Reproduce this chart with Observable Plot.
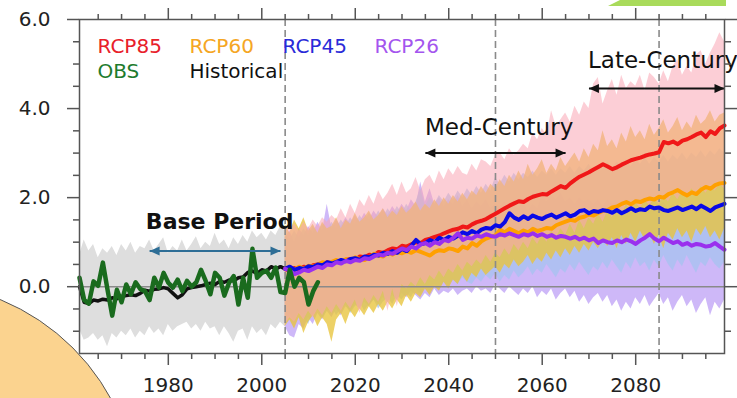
<!DOCTYPE html>
<html><head><meta charset="utf-8">
<script src="https://cdn.jsdelivr.net/npm/d3@7"></script>
<script src="https://cdn.jsdelivr.net/npm/@observablehq/plot@0.6"></script>
<style>
html,body{margin:0;padding:0;background:#fff;}
#wrap{position:relative;width:737px;height:398px;overflow:hidden;}
#chart{position:absolute;left:0;top:0;}
.deco{position:absolute;left:0;top:0;pointer-events:none;}
</style></head><body>
<div id="wrap"><div id="chart"></div>
<svg class="deco" width="737" height="398">
<circle cx="-84" cy="505" r="222" fill="#FBD38F" stroke="#555" stroke-width="1"/>
<polygon points="620,0 726,0 726,6 608,6" fill="#A9DB5B"/>
</svg></div>
<script>
// ---- categories / ticks ----
const histYears = d3.range(1961, 2006);
const obsYears = d3.range(1961, 2013);
const rcpYears = d3.range(2005, 2100);
const xMajorTicks = [1980, 2000, 2020, 2040, 2060, 2080];
const xMinorTicks = [1965, 1970, 1975, 1985, 1990, 1995, 2005, 2010, 2015, 2025, 2030, 2035, 2045, 2050, 2055, 2065, 2070, 2075, 2085, 2090, 2095];
const yMajorTicks = [0, 2, 4, 6];
const yMinorTicks = [-1, -0.5, 0.5, 1, 1.5, 2.5, 3, 3.5, 4.5, 5, 5.5];
const periodBounds = [2005, 2050, 2085];

// ---- observed & historical ----
const obs = [
  0.2, -0.3, -0.38, 0.12, 0.02, 0.54, -0.07, -0.65, -0.07, -0.35,
  0.05, -0.17, 0.1, -0.05, -0.1, -0.3, 0.2, -0.02, 0.31, 0.09,
  -0.02, 0.16, -0.1, 0.13, 0.0, 0.1, 0.38, 0.13, -0.17, 0.31,
  0.2, -0.2, 0.09, 0.24, -0.4, 0.2, -0.25, 0.85, 0.2, 0.31,
  0.36, 0.2, 0.43, -0.12, -0.14, 0.38, 0.0, 0.2, 0.1, -0.4,
  -0.1, 0.1];
const historical = [
  0.0, -0.35, -0.38, -0.3, -0.32, -0.28, -0.3, -0.25, -0.27, -0.22,
  -0.2, -0.18, -0.2, -0.15, -0.08, -0.1, -0.06, -0.05, -0.02, -0.05,
  -0.15, -0.25, -0.18, -0.05, -0.02, 0.0, 0.02, 0.05, 0.08, 0.05,
  0.12, 0.1, 0.15, 0.13, 0.2, 0.22, 0.32, 0.35, 0.3, 0.38,
  0.35, 0.45, 0.4, 0.45, 0.4];
const histHi = [
  0.70, 1.05, 0.80, 0.95, 0.65, 0.85, 0.75, 0.90, 0.70, 0.95,
  0.80, 1.00, 0.75, 0.90, 0.85, 1.05, 0.80, 0.95, 1.10, 0.75,
  0.90, 0.80, 1.05, 0.80, 0.95, 1.12, 0.85, 1.00, 0.90, 1.20,
  0.95, 1.05, 0.85, 1.10, 0.95, 1.15, 1.00, 1.25, 1.10, 1.20,
  1.05, 1.25, 1.15, 1.35, 1.25];
const histLo = [
  -0.95, -1.20, -1.15, -1.05, -1.20, -1.10, -1.35, -1.05, -1.15, -1.00,
  -1.10, -0.95, -1.15, -1.00, -1.10, -0.90, -1.05, -0.95, -1.10, -0.85,
  -1.00, -0.90, -0.85, -0.80, -0.95, -0.85, -1.00, -0.80, -0.95, -0.90,
  -1.10, -0.90, -1.05, -1.25, -1.00, -0.95, -1.20, -0.90, -1.05, -0.95,
  -1.10, -0.85, -0.95, -0.80, -0.90];

// ---- scenario means (2005-2099) ----
const rcp85 = [
  0.40, 0.35, 0.42, 0.38, 0.45,
  0.42, 0.48, 0.50, 0.47, 0.55, 0.52, 0.58, 0.56, 0.60, 0.62,
  0.60, 0.68, 0.66, 0.72, 0.70, 0.78, 0.76, 0.82, 0.86, 0.84,
  0.92, 0.90, 0.95, 1.00, 0.98, 1.05, 1.08, 1.12, 1.15, 1.20,
  1.24, 1.28, 1.30, 1.35, 1.33, 1.40, 1.45, 1.48, 1.52, 1.58,
  1.64, 1.70, 1.76, 1.82, 1.87, 1.92, 1.90, 1.97, 2.02, 2.05,
  2.08, 2.07, 2.14, 2.20, 2.26, 2.22, 2.32, 2.40, 2.47, 2.52,
  2.57, 2.63, 2.69, 2.75, 2.70, 2.64, 2.68, 2.74, 2.79, 2.84,
  2.87, 2.90, 2.94, 2.97, 2.99, 3.02, 3.25, 3.22, 3.26, 3.20,
  3.28, 3.31, 3.36, 3.42, 3.46, 3.36, 3.49, 3.43, 3.56, 3.62];
const rcp60 = [
  0.40, 0.42, 0.38, 0.45, 0.40,
  0.47, 0.45, 0.50, 0.55, 0.52, 0.56, 0.60, 0.55, 0.62, 0.58,
  0.66, 0.62, 0.60, 0.66, 0.74, 0.70, 0.68, 0.76, 0.72, 0.78,
  0.75, 0.80, 0.76, 0.82, 0.78, 0.74, 0.70, 0.78, 0.82, 0.80,
  0.86, 0.84, 0.80, 0.90, 0.86, 0.98, 0.92, 1.02, 1.08, 1.12,
  1.15, 1.28, 1.22, 1.30, 1.25, 1.20, 1.26, 1.22, 1.30, 1.25,
  1.28, 1.32, 1.30, 1.38, 1.42, 1.46, 1.50, 1.48, 1.55, 1.57,
  1.62, 1.60, 1.66, 1.70, 1.72, 1.78, 1.80, 1.86, 1.90, 1.85,
  1.92, 1.90, 1.95, 1.98, 1.96, 2.02, 2.00, 2.08, 2.12, 2.17,
  2.10, 2.05, 2.12, 2.08, 2.18, 2.24, 2.20, 2.28, 2.32, 2.33];
const rcp45 = [
  0.40, 0.45, 0.38, 0.42, 0.40,
  0.46, 0.44, 0.50, 0.48, 0.55, 0.52, 0.56, 0.60, 0.57, 0.62,
  0.64, 0.60, 0.68, 0.66, 0.72, 0.70, 0.76, 0.74, 0.80, 0.76,
  0.85, 0.80, 0.92, 1.05, 0.95, 0.98, 1.05, 1.00, 1.10, 1.05,
  1.12, 1.08, 1.15, 1.22, 1.18, 1.25, 1.20, 1.28, 1.32, 1.30,
  1.38, 1.35, 1.45, 1.65, 1.55, 1.50, 1.58, 1.52, 1.60, 1.55,
  1.52, 1.58, 1.62, 1.55, 1.60, 1.65, 1.58, 1.62, 1.70, 1.72,
  1.65, 1.70, 1.68, 1.72, 1.70, 1.66, 1.72, 1.65, 1.70, 1.76,
  1.70, 1.74, 1.72, 1.80, 1.76, 1.78, 1.72, 1.70, 1.74, 1.78,
  1.72, 1.76, 1.80, 1.74, 1.82, 1.76, 1.70, 1.78, 1.82, 1.86];
const rcp26 = [
  0.40, 0.36, 0.28, 0.32, 0.38,
  0.35, 0.40, 0.45, 0.42, 0.50, 0.48, 0.55, 0.52, 0.58, 0.55,
  0.60, 0.58, 0.64, 0.62, 0.68, 0.72, 0.70, 0.76, 0.74, 0.80,
  0.86, 0.82, 0.90, 0.86, 0.95, 0.98, 0.92, 1.00, 0.96, 1.05,
  1.02, 1.10, 1.20, 1.05, 1.10, 1.08, 1.15, 1.12, 1.18, 1.14,
  1.12, 1.18, 1.15, 1.20, 1.16, 1.12, 1.18, 1.15, 1.20, 1.14,
  1.18, 1.12, 1.16, 1.10, 1.14, 1.12, 1.08, 1.12, 1.06, 1.10,
  1.04, 1.08, 0.98, 1.04, 1.00, 0.98, 1.04, 1.00, 1.06, 1.02,
  0.96, 1.04, 1.10, 1.18, 1.08, 1.02, 1.10, 1.04, 0.98, 1.02,
  0.94, 0.98, 0.92, 0.96, 0.94, 0.90, 0.92, 0.98, 0.90, 0.83];

// ---- scenario ranges (2005-2099) ----
const rcp85Hi = [
  1.35, 1.30, 1.40, 1.25, 1.45,
  1.30, 1.50, 1.35, 1.55, 1.45, 1.60, 1.50, 1.75, 1.55, 1.85,
  1.65, 1.95, 1.80, 2.05, 1.85, 2.15, 1.95, 2.10, 2.30, 2.05,
  2.35, 2.10, 2.20, 2.45, 2.15, 2.40, 2.50, 2.30, 2.60, 2.40,
  2.65, 2.50, 2.70, 2.55, 2.50, 2.75, 2.60, 2.85, 2.80, 2.70,
  2.95, 3.00, 2.85, 3.10, 2.95, 3.05, 3.20, 3.10, 3.45, 3.30,
  3.55, 3.40, 3.95, 3.60, 3.75, 3.90, 3.70, 4.05, 3.85, 4.15,
  4.00, 4.55, 4.70, 4.10, 4.40, 4.65, 4.30, 4.75, 4.45, 4.60,
  4.50, 4.75, 4.40, 4.80, 4.70, 4.55, 4.85, 4.60, 4.95, 5.10,
  4.75, 4.95, 4.80, 5.20, 5.30, 5.00, 5.25, 5.45, 5.70, 5.50];
const rcp85Lo = [
  -0.85, -0.70, -0.80, -0.60, -0.75,
  -0.55, -0.70, -0.50, -0.65, -0.45, -0.60, -0.40, -0.55, -0.35, -0.50,
  -0.30, -0.60, -0.25, -0.40, -0.20, -0.35, -0.10, -0.55, -0.05, -0.45,
  0.05, -0.05, 0.10, 0.00, 0.20, 0.05, 0.25, 0.15, 0.35, 0.20,
  0.40, 0.30, 0.50, 0.35, 0.55, 0.45, 0.60, 0.50, 0.70, 0.55,
  0.75, 0.65, 0.85, 0.70, 0.95, 0.80, 1.00, 0.85, 1.10, 0.95,
  1.15, 1.00, 1.25, 1.10, 1.30, 1.15, 1.40, 1.20, 1.50, 1.30,
  1.55, 1.40, 1.65, 1.45, 1.70, 1.55, 1.75, 1.60, 1.85, 1.70,
  1.90, 1.75, 1.95, 1.80, 2.00, 1.85, 2.05, 1.90, 2.10, 1.95,
  2.15, 2.00, 2.20, 2.05, 2.25, 2.10, 2.25, 2.15, 2.30, 2.20];
const rcp60Hi = [
  1.40, 1.20, 1.50, 1.30, 1.55,
  1.25, 1.40, 1.20, 1.45, 1.30, 1.35, 1.55, 1.30, 1.50, 1.40,
  1.65, 1.45, 1.55, 1.70, 1.50, 1.60, 1.75, 1.55, 1.70, 1.60,
  1.80, 1.65, 1.75, 1.90, 1.70, 1.85, 1.75, 1.95, 1.80, 2.00,
  1.85, 2.05, 1.90, 2.10, 1.95, 2.15, 2.05, 2.25, 2.10, 2.30,
  2.20, 2.40, 2.25, 2.50, 2.35, 2.60, 2.40, 2.75, 2.50, 2.65,
  2.85, 2.55, 2.75, 2.60, 2.90, 2.70, 2.85, 3.00, 2.80, 3.10,
  2.90, 3.20, 3.05, 3.50, 3.15, 3.30, 3.10, 3.45, 3.25, 3.60,
  3.35, 3.50, 3.30, 3.65, 3.40, 3.55, 3.75, 3.45, 3.60, 3.80,
  3.50, 3.70, 3.55, 3.85, 3.65, 3.75, 3.95, 3.70, 3.85, 3.90];
const rcp60Lo = [
  -0.90, -0.75, -0.95, -0.70, -1.05,
  -0.80, -0.65, -0.90, -0.70, -0.85, -1.25, -0.75, -0.60, -0.85, -0.55,
  -0.70, -0.50, -0.65, -0.45, -0.60, -0.40, -0.55, -0.35, -0.50, -0.30,
  -0.45, -0.20, -0.35, -0.15, -0.25, -0.05, -0.20, 0.00, -0.10, 0.10,
  -0.05, 0.15, 0.05, 0.25, 0.10, 0.30, 0.20, 0.40, 0.25, 0.35,
  0.45, 0.30, 0.50, 0.40, 0.60, 0.45, 0.55, 0.70, 0.50, 0.65,
  0.55, 0.75, 0.60, 0.80, 0.65, 0.85, 0.70, 0.90, 0.75, 0.95,
  0.80, 1.00, 0.85, 1.05, 0.90, 1.10, 0.85, 1.15, 0.95, 1.20,
  1.00, 1.25, 1.05, 1.20, 0.95, 1.15, 0.85, 1.20, 1.05, 1.30,
  1.10, 1.25, 1.00, 1.30, 1.15, 1.35, 1.10, 1.25, 1.05, 1.30];
const rcp45Hi = [
  1.20, 1.05, 1.25, 1.10, 1.30,
  1.15, 1.35, 1.20, 1.40, 1.25, 1.45, 1.30, 1.50, 1.35, 1.55,
  1.40, 1.60, 1.45, 1.65, 1.50, 1.70, 1.55, 1.75, 1.60, 1.80,
  1.65, 1.85, 1.70, 1.90, 2.20, 1.80, 2.00, 1.85, 2.05, 1.90,
  2.10, 1.95, 2.15, 2.00, 2.20, 2.05, 2.25, 2.10, 2.30, 2.15,
  2.45, 2.30, 2.50, 2.35, 2.55, 2.40, 2.55, 2.45, 2.60, 2.45,
  2.60, 2.50, 2.65, 2.50, 2.65, 2.55, 2.70, 2.55, 2.70, 2.60,
  2.75, 2.60, 2.75, 2.65, 2.80, 2.65, 2.80, 2.70, 2.85, 2.70,
  2.85, 2.75, 2.90, 2.75, 2.90, 2.80, 2.95, 2.80, 2.95, 2.85,
  3.00, 2.85, 3.00, 2.90, 3.05, 2.90, 3.05, 2.95, 3.10, 3.00];
const rcp45Lo = [
  -0.80, -0.60, -0.75, -0.55, -0.70,
  -0.85, -0.60, -0.50, -0.70, -0.55, -0.45, -0.65, -0.50, -0.40, -0.60,
  -0.45, -0.35, -0.55, -0.40, -0.30, -0.50, -0.35, -0.25, -0.40, -0.20,
  -0.30, -0.15, -0.25, -0.05, -0.20, 0.00, -0.10, 0.05, -0.05, 0.10,
  0.00, 0.15, 0.05, 0.20, 0.10, 0.05, 0.20, 0.10, 0.25, 0.15,
  0.30, 0.10, 0.25, 0.15, 0.35, 0.20, 0.30, 0.45, 0.25, 0.40,
  0.30, 0.50, 0.35, 0.20, 0.40, 0.30, 0.50, 0.35, 0.55, 0.40,
  0.25, 0.45, 0.35, 0.55, 0.40, 0.60, 0.45, 0.30, 0.55, 0.40,
  0.65, 0.45, 0.55, 0.35, 0.60, 0.45, 0.70, 0.50, 0.35, 0.60,
  0.45, 0.70, 0.50, 0.30, 0.55, 0.45, 0.65, 0.50, 0.40, 0.55];
const rcp26Hi = [
  1.10, 1.25, 1.00, 1.30, 1.15,
  1.35, 1.20, 1.45, 1.25, 1.85, 1.30, 1.50, 1.35, 1.55, 1.40,
  1.60, 1.45, 1.65, 1.50, 1.70, 1.55, 1.75, 1.60, 1.80, 1.65,
  1.85, 1.70, 1.95, 1.80, 2.35, 1.90, 2.20, 1.85, 2.00, 1.80,
  1.95, 1.85, 2.05, 1.80, 1.95, 1.75, 1.90, 1.80, 1.95, 1.75,
  1.85, 1.80, 1.90, 1.70, 1.85, 1.75, 1.90, 1.70, 1.85, 1.75,
  2.05, 1.90, 2.05, 1.95, 2.10, 1.90, 2.00, 1.85, 2.00, 1.90,
  1.95, 1.85, 1.95, 1.80, 1.95, 1.85, 1.90, 1.80, 1.95, 1.85,
  1.90, 1.80, 2.00, 1.85, 1.95, 1.80, 1.90, 1.75, 1.85, 1.80,
  1.85, 1.75, 1.80, 1.70, 1.85, 1.75, 1.80, 1.70, 1.75, 1.65];
const rcp26Lo = [
  -0.90, -1.10, -1.15, -0.85, -0.95,
  -0.70, -0.85, -0.60, -0.75, -0.55, -0.70, -0.50, -0.65, -0.45, -0.55,
  -0.40, -0.50, -0.35, -0.45, -0.30, -0.40, -0.25, -0.35, -0.20, -0.30,
  -0.15, -0.25, -0.10, -0.20, -0.30, -0.15, -0.25, -0.05, -0.20, -0.10,
  -0.15, -0.05, -0.20, -0.10, -0.05, -0.15, 0.00, -0.10, -0.05, -0.15,
  0.05, -0.05, -0.15, 0.00, -0.10, -0.20, -0.05, -0.15, 0.00, -0.25,
  -0.10, -0.20, -0.05, -0.30, -0.15, -0.05, -0.25, -0.10, -0.35, -0.20,
  -0.40, -0.25, -0.15, -0.35, -0.20, -0.45, -0.30, -0.55, -0.35, -0.50,
  -0.25, -0.40, -0.20, -0.45, -0.30, -0.15, -0.40, -0.25, -0.55, -0.35,
  -0.20, -0.45, -0.30, -0.60, -0.40, -0.25, -0.65, -0.35, -0.50, -0.30];

// ---- annotations ----
const legendLabels = ["RCP85", "RCP60", "RCP45", "RCP26", "OBS", "Historical"];
const legendColors = ["#E8202A", "#F5A623", "#2A2AD8", "#A455EE", "#1E7B2E", "#111111"];
const periodLabels = ["Base Period", "Med-Century", "Late-Century"];
const periodFrom = [1976, 2035, 2070];
const periodTo = [2004, 2065, 2099];
const periodArrowY = [0.8, 3.0, 4.45];
const periodLabelX = [1975.2, 2034.9, 2069.8];
const periodLabelY = [1.64, 3.77, 5.27];
const periodColors = ["#2E6E96", "#111111", "#111111"];

// ---- build tables ----
const lineRows = (years, v) => years.map((year, i) => ({year, v: v[i]}));
const bandRows = (years, lo, hi) => years.map((year, i) => ({year, lo: lo[i], hi: hi[i]}));
const periods = periodLabels.map((label, i) => ({label, from: periodFrom[i], to: periodTo[i], y: periodArrowY[i], lx: periodLabelX[i], ly: periodLabelY[i], color: periodColors[i]}));
const legendRows = legendLabels.map((label, i) => ({label, color: legendColors[i], col: i < 4 ? i : i - 4, row: i < 4 ? 0 : 1}));
const legendDx = [18, 110, 203, 295];
const legendDy = [19, 44];

const bands = [
  {rows: bandRows(rcpYears, rcp26Lo, rcp26Hi), fill: "#BEA0F5", op: 0.75},
  {rows: bandRows(rcpYears, rcp45Lo, rcp45Hi), fill: "#A5C3F0", op: 0.75},
  {rows: bandRows(rcpYears, rcp60Lo, rcp60Hi), fill: "#E8C43C", op: 0.78},
  {rows: bandRows(rcpYears, rcp85Lo, rcp85Hi), fill: "#FAA5B4", op: 0.55}
];
const lines = [
  {rows: lineRows(rcpYears, rcp85), stroke: "#F01818"},
  {rows: lineRows(rcpYears, rcp60), stroke: "#FFA000"},
  {rows: lineRows(rcpYears, rcp45), stroke: "#0A0AE6"},
  {rows: lineRows(rcpYears, rcp26), stroke: "#9A30EE"}
];

const axisStyle = {stroke: "#555", strokeWidth: 1.5, label: null};
const noText = () => "";

const chart = Plot.plot({
  width: 737, height: 398,
  marginLeft: 79, marginRight: 13, marginTop: 19, marginBottom: 45,
  x: {domain: [1961, 2099], label: null},
  y: {domain: [-1.5, 6], label: null},
  style: {fontFamily: "DejaVu Sans", fontSize: "20px", color: "#222", background: "white", overflow: "visible"},
  marks: [
    Plot.areaY(bandRows(histYears, histLo, histHi), {x: "year", y1: "lo", y2: "hi", fill: "#DEDEDE"}),
    ...bands.map(b => Plot.areaY(b.rows, {x: "year", y1: "lo", y2: "hi", fill: b.fill, fillOpacity: b.op})),
    Plot.ruleY([0], {stroke: "#8a8a8a", strokeWidth: 1.6}),
    Plot.ruleX(periodBounds, {stroke: "#8a8a8a", strokeWidth: 1.6, strokeDasharray: "7,4"}),
    Plot.line(lineRows(histYears, historical), {x: "year", y: "v", stroke: "#111", strokeWidth: 3.5}),
    ...lines.map(l => Plot.line(l.rows, {x: "year", y: "v", stroke: l.stroke, strokeWidth: 4})),
    Plot.line(lineRows(obsYears, obs), {x: "year", y: "v", stroke: "#1A6B1E", strokeWidth: 4.5}),
    // period arrows
    Plot.link(periods, {x1: "from", x2: "to", y1: "y", y2: "y", stroke: "color", strokeWidth: 2}),
    Plot.vector(periods, {x: "to", y: "y", rotate: 90, length: 10, r: 4.5, shape: "spike", anchor: "end", fill: "color", stroke: "none"}),
    Plot.vector(periods, {x: "from", y: "y", rotate: -90, length: 10, r: 4.5, shape: "spike", anchor: "end", fill: "color", stroke: "none"}),
    Plot.text(periods.slice(0, 1), {x: "lx", y: "ly", text: "label", textAnchor: "start", lineAnchor: "top", fontSize: 22, fontWeight: "bold", fill: "#111"}),
    Plot.text(periods.slice(1), {x: "lx", y: "ly", text: "label", textAnchor: "start", lineAnchor: "top", fontSize: 23, fill: "#111"}),
    // legend
    ...legendRows.map(d => Plot.text([d.label], {frameAnchor: "top-left", dx: legendDx[d.col], dy: legendDy[d.row], text: t => t, textAnchor: "start", lineAnchor: "top", fontSize: 20, fill: d.color})),
    // frame and axes
    Plot.frame({stroke: "#555", strokeWidth: 1.5}),
    Plot.axisX(xMajorTicks, {...axisStyle, anchor: "bottom", tickSize: 12, tickPadding: 12, tickFormat: d => String(d), fill: "#222"}),
    Plot.axisX(xMinorTicks, {...axisStyle, anchor: "bottom", tickSize: 6, tickFormat: noText}),
    Plot.axisX(xMajorTicks, {...axisStyle, anchor: "top", tickSize: 12, tickFormat: noText}),
    Plot.axisX(xMinorTicks, {...axisStyle, anchor: "top", tickSize: 6, tickFormat: noText}),
    Plot.axisY(yMajorTicks, {...axisStyle, anchor: "left", tickSize: 12, tickPadding: 17, tickFormat: d3.format(".1f"), fill: "#222"}),
    Plot.axisY(yMinorTicks, {...axisStyle, anchor: "left", tickSize: 6, tickFormat: noText}),
    Plot.axisY(yMajorTicks, {...axisStyle, anchor: "right", tickSize: 12, tickFormat: noText}),
    Plot.axisY(yMinorTicks, {...axisStyle, anchor: "right", tickSize: 6, tickFormat: noText})
  ]
});
document.getElementById("chart").appendChild(chart);
</script>
</body></html>
